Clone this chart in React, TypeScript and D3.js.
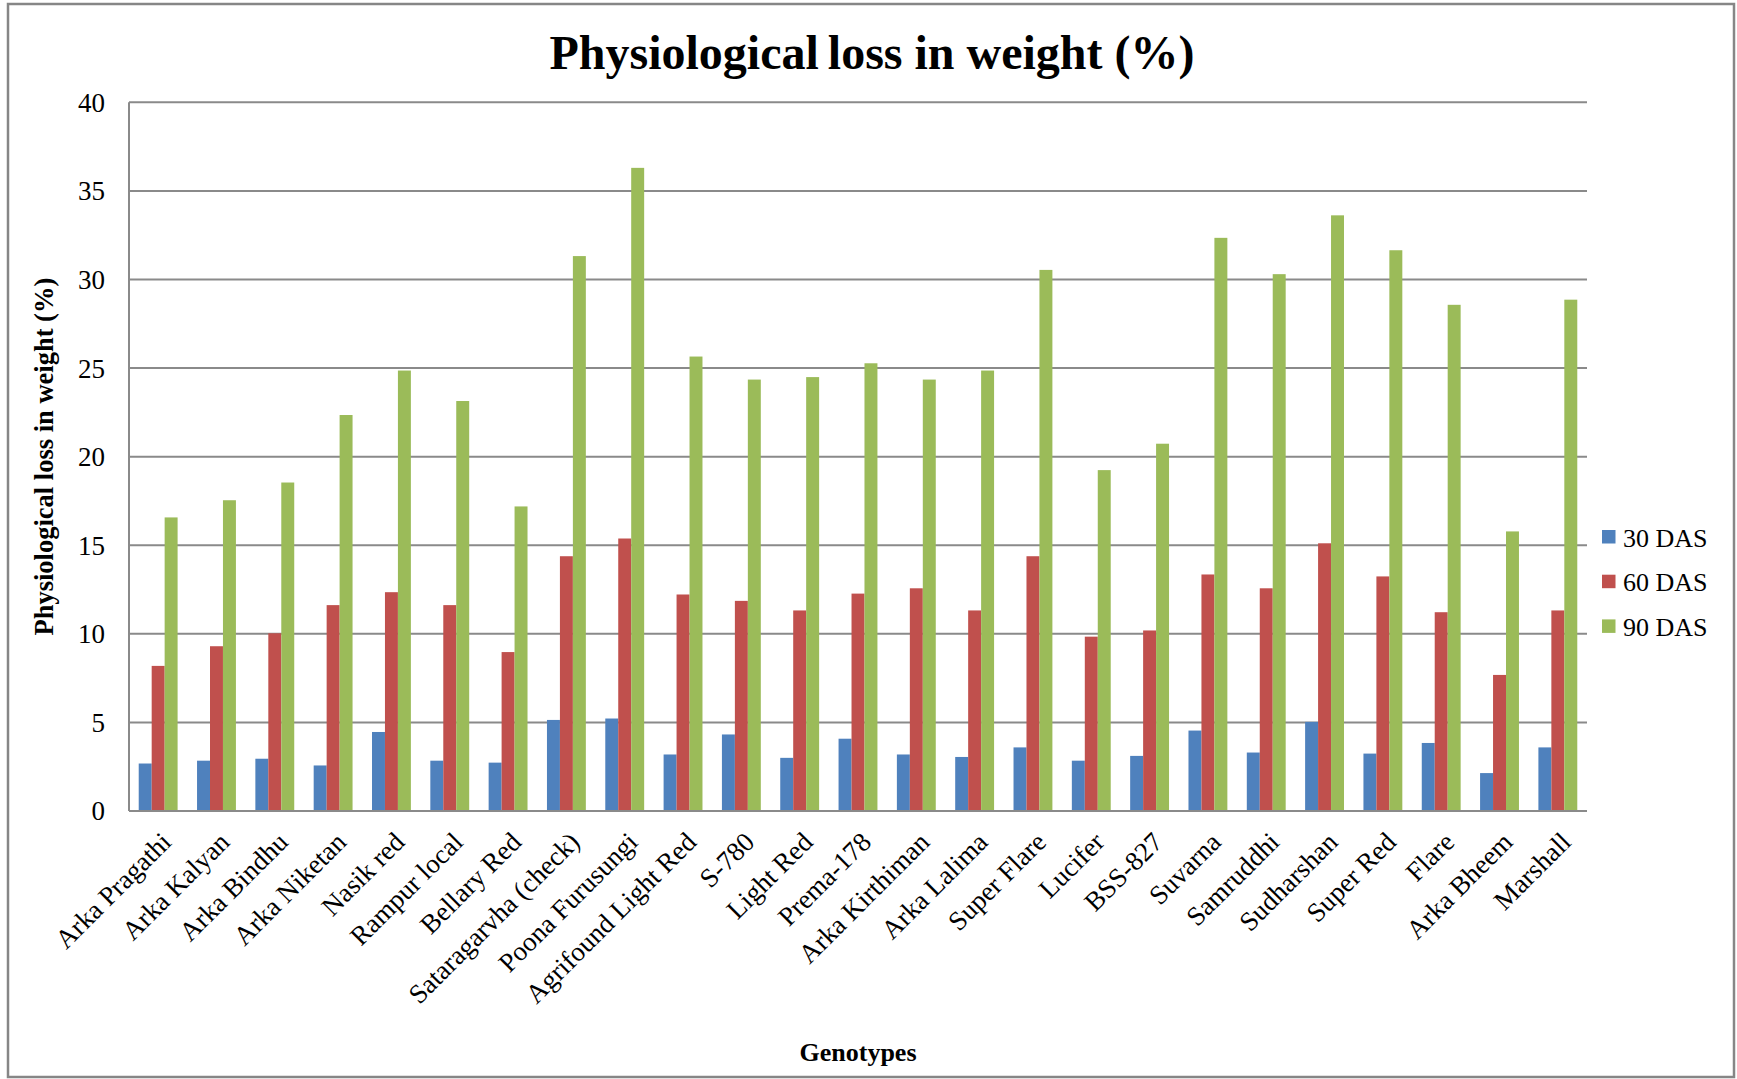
import React from "react";
import * as d3 from "d3";

const genotypes = [
  "Arka Pragathi", "Arka Kalyan", "Arka Bindhu", "Arka Niketan", "Nasik red",
  "Rampur local", "Bellary Red", "Sataragarvha (check)", "Poona Furusungi",
  "Agrifound Light Red", "S-780", "Light Red", "Prema-178", "Arka Kirthiman",
  "Arka Lalima", "Super Flare", "Lucifer", "BSS-827", "Suvarna", "Samruddhi",
  "Sudharshan", "Super Red", "Flare", "Arka Bheem", "Marshall",
];

const das30 = [2.68, 2.84, 2.95, 2.57, 4.46, 2.84, 2.73, 5.14, 5.22, 3.19, 4.32, 3.0, 4.08, 3.19, 3.05, 3.59, 2.84, 3.11, 4.54, 3.3, 5.03, 3.24, 3.84, 2.14, 3.59];
const das60 = [8.19, 9.3, 10.03, 11.62, 12.35, 11.62, 8.97, 14.38, 15.38, 12.22, 11.86, 11.32, 12.27, 12.57, 11.32, 14.38, 9.84, 10.19, 13.35, 12.57, 15.11, 13.24, 11.22, 7.68, 11.32];
const das90 = [16.57, 17.54, 18.54, 22.35, 24.86, 23.14, 17.19, 31.32, 36.3, 25.65, 24.35, 24.49, 25.27, 24.35, 24.86, 30.54, 19.24, 20.73, 32.35, 30.3, 33.62, 31.65, 28.57, 15.78, 28.86];

const seriesNames = ["30 DAS", "60 DAS", "90 DAS"];
const seriesColors = ["#4F81BD", "#C0504D", "#9BBB59"];
const yTicks = [0, 5, 10, 15, 20, 25, 30, 35, 40];

const W = 1737;
const H = 1079;
const FONT = "'Liberation Serif', 'Times New Roman', serif";

export default function App() {
  const left = 129, right = 1587, top = 102.3, bottom = 811;
  const x = d3.scaleBand<string>().domain(genotypes).range([left, right]).paddingInner(0).paddingOuter(0);
  const bw = x.bandwidth() / 4.5;
  const inner = d3.scaleBand<string>().domain(seriesNames).range([0.75 * bw, 3.75 * bw]).padding(0);
  const y = d3.scaleLinear().domain([0, 40]).range([bottom, top]);
  const series = [das30, das60, das90];

  return (
    <svg width={W} height={H} style={{ position: "absolute", left: 0, top: 0, background: "#fff" }}>
      <rect x={0} y={0} width={W} height={H} fill="#fff" />
      <rect x={8} y={4} width={1726} height={1073} fill="#fff" stroke="#868686" strokeWidth={2.5} />
      <text x={872} y={68.6} textAnchor="middle" fontFamily={FONT} fontWeight="bold" fontSize={48} fill="#000">
        <tspan>Physiological</tspan>
        <tspan dx={-3}> loss in weight (%)</tspan>
      </text>
      {yTicks.map((t) => (
        <g key={t}>
          <line x1={left} x2={right} y1={y(t)} y2={y(t)} stroke="#8a8a8a" strokeWidth={2} />
          <text x={105} y={y(t)} dy="0.35em" textAnchor="end" fontFamily={FONT} fontSize={27} fill="#000">
            {t}
          </text>
        </g>
      ))}
      <line x1={left} x2={left} y1={top} y2={bottom} stroke="#8a8a8a" strokeWidth={2} />
      {series.map((vals, si) => (
        <g key={si}>
          {genotypes.map((g, i) => (
            <rect
              key={g}
              x={(x(g) as number) + (inner(seriesNames[si]) as number)}
              y={y(vals[i])}
              width={inner.bandwidth()}
              height={bottom - y(vals[i])}
              fill={seriesColors[si]}
            />
          ))}
        </g>
      ))}
      <line x1={left} x2={right} y1={bottom} y2={bottom} stroke="#8a8a8a" strokeWidth={2} />
      {genotypes.map((g) => {
        const cx = (x(g) as number) + x.bandwidth() / 2;
        return (
          <text
            key={g}
            transform={`translate(${cx + 8},${bottom + 26}) rotate(-45)`}
            textAnchor="end"
            dy="0.35em"
            fontFamily={FONT}
            fontSize={27}
            fill="#000"
          >
            {g}
          </text>
        );
      })}
      <text
        transform={`translate(53,${(top + bottom) / 2}) rotate(-90)`}
        textAnchor="middle"
        fontFamily={FONT}
        fontWeight="bold"
        fontSize={26.5}
        fill="#000"
      >
        Physiological loss in weight (%)
      </text>
      <text x={(left + right) / 2} y={1061} textAnchor="middle" fontFamily={FONT} fontWeight="bold" fontSize={26} fill="#000">
        Genotypes
      </text>
      {seriesNames.map((s, i) => (
        <g key={s} transform={`translate(1602,${530 + i * 44.7})`}>
          <rect x={0} y={0} width={13.5} height={13.5} fill={seriesColors[i]} />
          <text x={21} y={16.7} fontFamily={FONT} fontSize={26} fill="#000">
            {s}
          </text>
        </g>
      ))}
    </svg>
  );
}
